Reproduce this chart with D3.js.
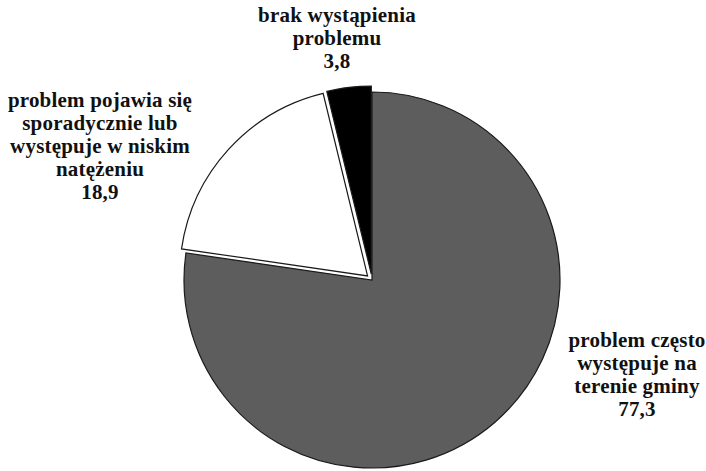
<!DOCTYPE html>
<html>
<head>
<meta charset="utf-8">
<script src="https://cdn.jsdelivr.net/npm/d3@7"></script>
<style>
  body { margin: 0; background: #fff; }
</style>
</head>
<body>
<div id="chart"></div>
<script>
const categories = [
  ["problem często", "występuje na", "terenie gminy"],
  ["problem pojawia się", "sporadycznie lub", "występuje w niskim", "natężeniu"],
  ["brak wystąpienia", "problemu"]
];
const values = [77.3, 18.9, 3.8];
const colors = ["#5d5d5d", "#ffffff", "#000000"];

const width = 706, height = 471;
const cx = 372, cy = 280, radius = 188;
const explode = [0, 6, 6];
// label block centres (first line), picked by eye like the original layout
const labelPos = [[637, 347], [100, 107], [337, 22]];
const lineH = 23;

const svg = d3.select("#chart").append("svg")
  .attr("width", width).attr("height", height);

const pie = d3.pie().sort(null).value(d => d)(values);
const arc = d3.arc().innerRadius(0).outerRadius(radius);

const g = svg.append("g").attr("transform", `translate(${cx},${cy})`);

g.selectAll("path")
  .data(pie)
  .join("path")
  .attr("transform", (d, i) => {
    const a = (d.startAngle + d.endAngle) / 2;
    return `translate(${Math.sin(a) * explode[i]},${-Math.cos(a) * explode[i]})`;
  })
  .attr("d", arc)
  .attr("fill", (d, i) => colors[i])
  .attr("stroke", "#1a1a1a")
  .attr("stroke-width", 1.2);

const fmt = v => String(v).replace(".", ",");

const labels = svg.append("g")
  .attr("font-family", "'Liberation Serif', 'Times New Roman', serif")
  .attr("font-weight", "bold")
  .attr("font-size", 21)
  .attr("letter-spacing", 0.2)
  .attr("fill", "#111");

categories.forEach((lines, i) => {
  const t = labels.append("text")
    .attr("text-anchor", "middle")
    .attr("x", labelPos[i][0])
    .attr("y", labelPos[i][1]);
  lines.concat([fmt(values[i])]).forEach((s, j) => {
    t.append("tspan")
      .attr("x", labelPos[i][0])
      .attr("dy", j === 0 ? 0 : lineH)
      .text(s);
  });
});
</script>
</body>
</html>
